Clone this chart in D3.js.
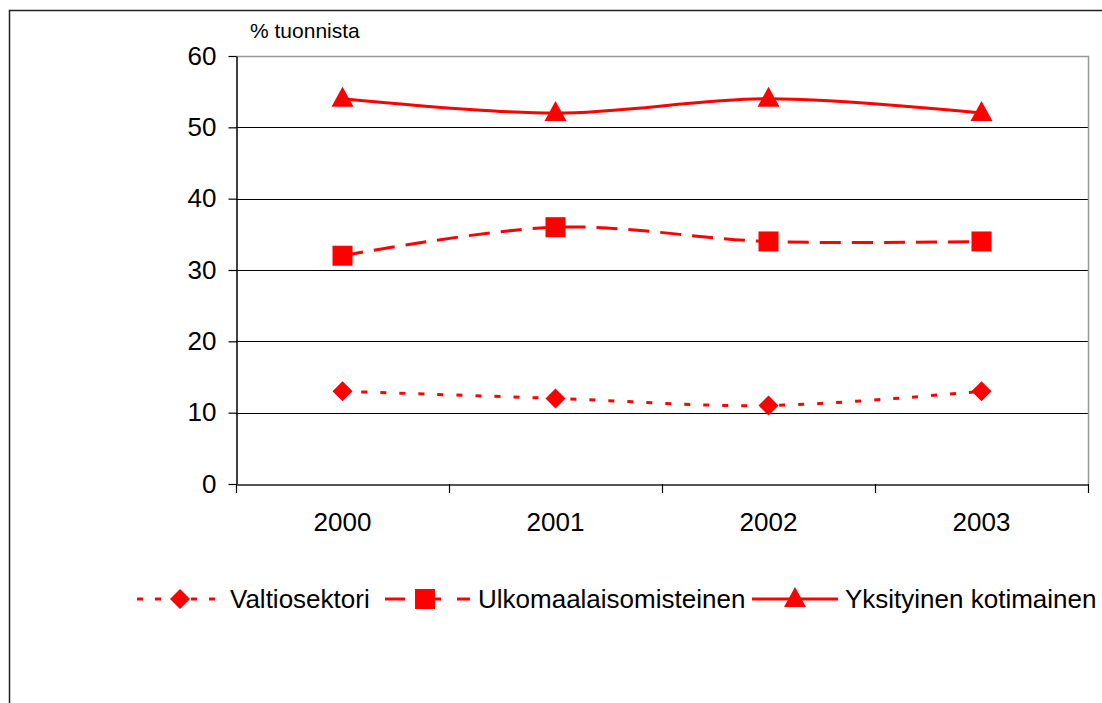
<!DOCTYPE html>
<html><head><meta charset="utf-8">
<script src="https://cdn.jsdelivr.net/npm/d3@7"></script>
<style>body{margin:0;background:#fff}svg{display:block;font-family:"Liberation Sans",Arial,sans-serif}</style>
</head><body>
<svg id="c" width="1102" height="703"></svg>
<script>
const years = ["2000","2001","2002","2003"];
const valtiosektori = [13,12,11,13];
const ulkomaalaisomisteinen = [32,36,34,34];
const yksityinen = [54,52,54,52];
const seriesNames = ["Valtiosektori","Ulkomaalaisomisteinen","Yksityinen kotimainen"];
const yTicks = [0,10,20,30,40,50,60];
const unitLabel = "% tuonnista";

const svg = d3.select("#c");
const red = "#ff0000";
const L=236, R=1088, T=56, B=484;
const x = d3.scaleBand().domain(years).range([L,R]);
const y = d3.scaleLinear().domain([0,60]).range([B,T]);

// outer frame
svg.append("path").attr("d","M9.5,703 L9.5,10.5 L1102,10.5").attr("fill","none").attr("stroke","#222").attr("stroke-width",1.5);

// gridlines
svg.append("g").selectAll("line").data(yTicks.filter(d=>d>0&&d<60)).join("line")
  .attr("x1",L).attr("x2",R).attr("y1",d=>Math.round(y(d))+0.5).attr("y2",d=>Math.round(y(d))+0.5)
  .attr("stroke","#000").attr("stroke-width",1);
// plot border (gray top/right)
svg.append("path").attr("d",`M${L},${T+0.5} L${R+0.5},${T+0.5} L${R+0.5},${B}`).attr("fill","none").attr("stroke","#999").attr("stroke-width",1.5);

// y axis
const ya = svg.append("g").attr("transform",`translate(${L+0.5},0)`)
  .call(d3.axisLeft(y).tickValues(yTicks).tickSize(8).tickPadding(12).tickSizeOuter(0));
ya.select(".domain").attr("stroke","#000").attr("stroke-width",1.5);
ya.selectAll(".tick line").attr("stroke","#000").attr("stroke-width",1.2);
ya.selectAll(".tick text").attr("font-size",26).attr("fill","#000").attr("font-family","Liberation Sans, Arial, sans-serif");

// x axis
const xa = svg.append("g").attr("transform",`translate(0,${B+0.5})`)
  .call(d3.axisBottom(x).tickSize(0).tickPadding(28));
xa.select(".domain").attr("stroke","#555").attr("stroke-width",2);
xa.selectAll(".tick text").attr("font-size",26).attr("fill","#000").attr("font-family","Liberation Sans, Arial, sans-serif");
svg.append("g").selectAll("line").data(d3.range(years.length+1)).join("line")
  .attr("x1",i=>L+i*x.step()+0.5).attr("x2",i=>L+i*x.step()+0.5)
  .attr("y1",B).attr("y2",B+9).attr("stroke","#000").attr("stroke-width",1.2);

svg.append("text").attr("x",250).attr("y",38).attr("font-size",21).text(unitLabel);

const cx = d=>x(d)+x.bandwidth()/2;
const line = d3.line().curve(d3.curveCardinal.tension(0));
const data = [valtiosektori, ulkomaalaisomisteinen, yksityinen];
const dashes = ["6,13","21,11",null];

function marker(g, k, px, py){
  if(k===0){
    g.append("path").attr("d",`M${px},${py-10} L${px+10},${py} L${px},${py+10} L${px-10},${py} Z`).attr("fill",red);
  } else if(k===1){
    g.append("rect").attr("x",px-10).attr("y",py-10).attr("width",20).attr("height",20).attr("fill",red);
  } else {
    g.append("path").attr("d",`M${px},${py-12} L${px+11},${py+8} L${px-11},${py+8} Z`).attr("fill",red);
  }
}

data.forEach((vals,k)=>{
  const pts = years.map((yr,i)=>[cx(yr), y(vals[i])]);
  const p = svg.append("path").attr("d",line(pts)).attr("fill","none").attr("stroke",red).attr("stroke-width",3);
  if(dashes[k]) p.attr("stroke-dasharray",dashes[k]);
  const g = svg.append("g");
  pts.forEach(pt=>marker(g,k,pt[0],pt[1]));
});

// legend
const leg = [
  {x1:137,x2:222,mx:180,tx:230},
  {x1:383,x2:470,mx:425,tx:478},
  {x1:752,x2:838,mx:795,tx:845}
];
const ly = 599;
leg.forEach((l,k)=>{
  const p = svg.append("line").attr("x1",l.x1).attr("x2",l.x2).attr("y1",ly).attr("y2",ly).attr("stroke",red).attr("stroke-width",3);
  if(dashes[k]) p.attr("stroke-dasharray", k===0?"6,12":"20,16").attr("stroke-dashoffset", k===0?0:-2);
  marker(svg.append("g"),k,l.mx,ly);
  svg.append("text").attr("x",l.tx).attr("y",ly+9).attr("font-size",26).text(seriesNames[k]);
});
</script>
</body></html>
